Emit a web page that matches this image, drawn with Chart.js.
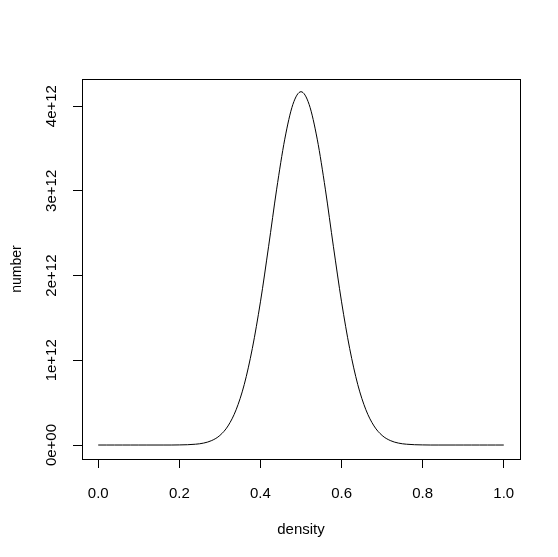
<!DOCTYPE html>
<html>
<head>
<meta charset="utf-8">
<script src="https://cdn.jsdelivr.net/npm/chart.js@4"></script>
<style>
html,body{margin:0;padding:0;background:#fff;}
#wrap{width:558px;height:557px;}
</style>
</head>
<body>
<div id="wrap"><canvas id="c" width="558" height="557"></canvas></div>
<script>
const densityValues = [0.00,0.02,0.04,0.06,0.08,0.10,0.12,0.14,0.16,0.18,
  0.20,0.22,0.24,0.26,0.28,0.30,0.32,0.34,0.36,0.38,
  0.40,0.42,0.44,0.46,0.48,0.50,0.52,0.54,0.56,0.58,
  0.60,0.62,0.64,0.66,0.68,0.70,0.72,0.74,0.76,0.78,
  0.80,0.82,0.84,0.86,0.88,0.90,0.92,0.94,0.96,0.98,1.00];
const numberValues = [0,0,0,0,0,0,0,0,0,0,
  0.0013e12,0.0036e12,0.0095e12,0.023e12,0.053e12,0.113e12,0.225e12,0.416e12,0.713e12,1.14e12,
  1.69e12,2.34e12,3.02e12,3.61e12,4.02e12,4.17e12,4.02e12,3.61e12,3.02e12,2.34e12,
  1.69e12,1.14e12,0.713e12,0.416e12,0.225e12,0.113e12,0.053e12,0.023e12,0.0095e12,0.0036e12,
  0.0013e12,0,0,0,0,0,0,0,0,0,0];
const xTickValues = [0, 0.2, 0.4, 0.6, 0.8, 1.0];
const xTickLabels = ['0.0', '0.2', '0.4', '0.6', '0.8', '1.0'];
const yTickValues = [0, 1e12, 2e12, 3e12, 4e12];
const yTickLabels = ['0e+00', '1e+12', '2e+12', '3e+12', '4e+12'];
const xTitle = 'density';
const yTitle = 'number';

const points = densityValues.map((x, i) => ({x: x, y: numberValues[i]}));
const FONT = 'Arial, "Liberation Sans", sans-serif';

const boxPlugin = {
  id: 'box',
  afterDraw(chart) {
    const a = chart.chartArea, ctx = chart.ctx;
    ctx.save();
    ctx.strokeStyle = '#000';
    ctx.lineWidth = 1;
    ctx.strokeRect(Math.round(a.left) + 0.5, Math.round(a.top) + 0.5,
      Math.round(a.right - a.left), Math.round(a.bottom - a.top));
    ctx.restore();
  }
};

new Chart(document.getElementById('c'), {
  type: 'line',
  data: {
    datasets: [{
      data: points,
      borderColor: '#000',
      borderWidth: 1,
      pointRadius: 0,
      fill: false,
      cubicInterpolationMode: 'monotone'
    }]
  },
  plugins: [boxPlugin],
  options: {
    responsive: false,
    animation: false,
    layout: {padding: {left: 0, right: 38, top: 79, bottom: 0}},
    plugins: {legend: {display: false}, tooltip: {enabled: false}},
    scales: {
      x: {
        type: 'linear',
        min: -0.04,
        max: 1.04,
        afterBuildTicks(s) { s.ticks = xTickValues.map(v => ({value: v})); },
        afterFit(s) { s.height = 98; },
        grid: {display: true, drawOnChartArea: false, drawTicks: true, tickLength: 9, color: '#000', lineWidth: 1},
        border: {display: true, color: '#000', width: 1},
        ticks: {
          color: '#000', font: {family: FONT, size: 15}, padding: 17,
          maxRotation: 0, minRotation: 0, autoSkip: false,
          callback: (v) => { const i = xTickValues.indexOf(v); return i >= 0 ? xTickLabels[i] : ''; }
        },
        title: {display: true, text: xTitle, color: '#000', font: {family: FONT, size: 15}, padding: {top: 0, bottom: 18}}
      },
      y: {
        type: 'linear',
        min: -0.165e12,
        max: 4.32e12,
        afterBuildTicks(s) { s.ticks = yTickValues.map(v => ({value: v})); },
        afterFit(s) { s.width = 82; },
        grid: {display: true, drawOnChartArea: false, drawTicks: true, tickLength: 9, color: '#000', lineWidth: 1},
        border: {display: true, color: '#000', width: 1},
        ticks: {
          color: '#000', font: {family: FONT, size: 15}, padding: 0,
          minRotation: 90, maxRotation: 90, autoSkip: false, crossAlign: 'center',
          callback: (v) => { const i = yTickValues.indexOf(v); return i >= 0 ? yTickLabels[i] : ''; }
        },
        title: {display: true, text: yTitle, color: '#000', font: {family: FONT, size: 14}, padding: {top: 9, bottom: 0}}
      }
    }
  }
});
</script>
</body>
</html>
